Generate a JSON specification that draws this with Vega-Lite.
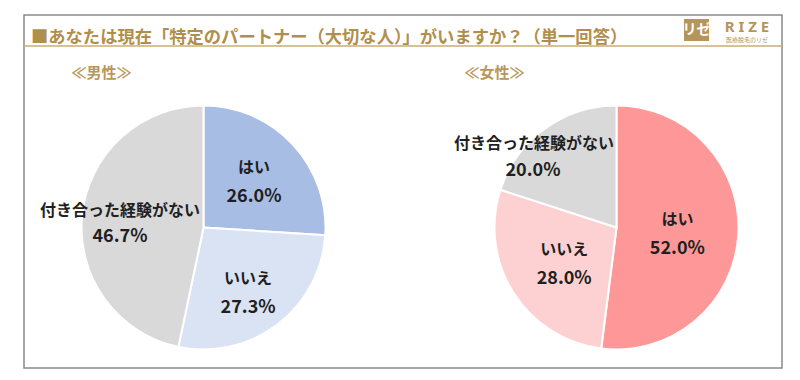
{
  "$schema": "https://vega.github.io/schema/vega-lite/v6.json",
  "width": 800,
  "height": 380,
  "autosize": {"type": "fit", "contains": "padding"},
  "padding": {"left": 23, "top": 15, "right": 17, "bottom": 12},
  "background": "white",
  "config": {
    "view": {"stroke": "#8a8a8a", "strokeWidth": 1.5},
    "font": "Noto Sans CJK JP"
  },
  "title": {
    "text": "■あなたは現在「特定のパートナー（大切な人）」がいますか？（単一回答）",
    "anchor": "start",
    "frame": "group",
    "orient": "top",
    "offset": -31,
    "dx": 7,
    "fontSize": 17.3,
    "fontWeight": "bold",
    "color": "#b08f4e",
    "font": "Noto Sans CJK JP"
  },
  "data": {
    "values": [
      {"gender": "男性", "answer": "はい", "value": 0.260},
      {"gender": "男性", "answer": "いいえ", "value": 0.273},
      {"gender": "男性", "answer": "付き合った経験がない", "value": 0.467},
      {"gender": "女性", "answer": "はい", "value": 0.520},
      {"gender": "女性", "answer": "いいえ", "value": 0.280},
      {"gender": "女性", "answer": "付き合った経験がない", "value": 0.200}
    ]
  },
  "transform": [
    {"calculate": "indexof(['はい','いいえ','付き合った経験がない'], datum.answer)", "as": "rank"}
  ],
  "resolve": {"scale": {"color": "independent"}},
  "layer": [
    {
      "data": {"values": [{"line": "underline"}]},
      "mark": {"type": "rule", "color": "#c9ae74", "strokeWidth": 1.5},
      "encoding": {"y": {"value": 31}}
    },
    {
      "transform": [{"filter": "datum.gender === '男性'"}],
      "mark": {"type": "arc", "outerRadius": 122, "stroke": "white", "strokeWidth": 2},
      "encoding": {
        "theta": {"field": "value", "type": "quantitative", "stack": true},
        "order": {"field": "rank", "type": "quantitative"},
        "color": {
          "field": "answer", "type": "nominal", "legend": null,
          "scale": {"domain": ["はい", "いいえ", "付き合った経験がない"], "range": ["#a8bde3", "#dae3f3", "#d9d9d9"]}
        },
        "x": {"field": "gender", "type": "nominal", "axis": null, "scale": {"type": "point", "padding": 0, "domain": ["男性", "女性"], "range": [179.5, 592.5]}},
        "y": {"value": 212.5}
      }
    },
    {
      "transform": [{"filter": "datum.gender === '女性'"}],
      "mark": {"type": "arc", "outerRadius": 122, "stroke": "white", "strokeWidth": 2},
      "encoding": {
        "theta": {"field": "value", "type": "quantitative", "stack": true},
        "order": {"field": "rank", "type": "quantitative"},
        "color": {
          "field": "answer", "type": "nominal", "legend": null,
          "scale": {"domain": ["はい", "いいえ", "付き合った経験がない"], "range": ["#fe9898", "#fdd1d1", "#d9d9d9"]}
        },
        "x": {"field": "gender", "type": "nominal", "axis": null, "scale": {"type": "point", "padding": 0, "domain": ["男性", "女性"], "range": [179.5, 592.5]}},
        "y": {"value": 212.5}
      }
    },
    {
      "transform": [{"filter": "datum.gender === '男性'"}],
      "mark": {
        "type": "text", "fontSize": 16, "fontWeight": "bold", "color": "#1f1f1f",
        "baseline": "middle", "align": "center", "dx": -2,
        "dy": {"expr": "datum.answer === '付き合った経験がない' ? -8 : -10"},
        "radius": {"expr": "datum.answer === 'はい' ? 72 : datum.answer === 'いいえ' ? 77 : 82"}
      },
      "encoding": {
        "theta": {"field": "value", "type": "quantitative", "stack": true},
        "order": {"field": "rank", "type": "quantitative"},
        "text": {"field": "answer"},
        "x": {"field": "gender", "type": "nominal", "axis": null, "scale": {"type": "point", "padding": 0, "domain": ["男性", "女性"], "range": [179.5, 592.5]}},
        "y": {"value": 212.5}
      }
    },
    {
      "transform": [{"filter": "datum.gender === '男性'"}],
      "mark": {
        "type": "text", "fontSize": 18, "fontWeight": "bold", "color": "#1f1f1f",
        "baseline": "middle", "align": "center", "dx": -2,
        "dy": {"expr": "datum.answer === '付き合った経験がない' ? 18 : 19"},
        "radius": {"expr": "datum.answer === 'はい' ? 72 : datum.answer === 'いいえ' ? 77 : 82"}
      },
      "encoding": {
        "theta": {"field": "value", "type": "quantitative", "stack": true},
        "order": {"field": "rank", "type": "quantitative"},
        "text": {"field": "value", "type": "quantitative", "format": ".1%"},
        "x": {"field": "gender", "type": "nominal", "axis": null, "scale": {"type": "point", "padding": 0, "domain": ["男性", "女性"], "range": [179.5, 592.5]}},
        "y": {"value": 212.5}
      }
    },
    {
      "transform": [{"filter": "datum.gender === '女性'"}],
      "mark": {
        "type": "text", "fontSize": 16, "fontWeight": "bold", "color": "#1f1f1f",
        "baseline": "middle", "align": "center",
        "radius": {"expr": "datum.answer === 'はい' ? 61 : datum.answer === 'いいえ' ? 62 : 108"},
        "dx": {"expr": "datum.answer === '付き合った経験がない' ? -19 : 0"},
        "dy": {"expr": "datum.answer === '付き合った経験がない' ? 4 : -11"}
      },
      "encoding": {
        "theta": {"field": "value", "type": "quantitative", "stack": true},
        "order": {"field": "rank", "type": "quantitative"},
        "text": {"field": "answer"},
        "x": {"field": "gender", "type": "nominal", "axis": null, "scale": {"type": "point", "padding": 0, "domain": ["男性", "女性"], "range": [179.5, 592.5]}},
        "y": {"value": 212.5}
      }
    },
    {
      "transform": [{"filter": "datum.gender === '女性'"}],
      "mark": {
        "type": "text", "fontSize": 18, "fontWeight": "bold", "color": "#1f1f1f",
        "baseline": "middle", "align": "center",
        "radius": {"expr": "datum.answer === 'はい' ? 61 : datum.answer === 'いいえ' ? 62 : 108"},
        "dx": {"expr": "datum.answer === '付き合った経験がない' ? -20 : 0"},
        "dy": {"expr": "datum.answer === '付き合った経験がない' ? 31 : 18"}
      },
      "encoding": {
        "theta": {"field": "value", "type": "quantitative", "stack": true},
        "order": {"field": "rank", "type": "quantitative"},
        "text": {"field": "value", "type": "quantitative", "format": ".1%"},
        "x": {"field": "gender", "type": "nominal", "axis": null, "scale": {"type": "point", "padding": 0, "domain": ["男性", "女性"], "range": [179.5, 592.5]}},
        "y": {"value": 212.5}
      }
    },
    {
      "data": {"values": [{"gender": "男性", "heading": "≪男性≫"}, {"gender": "女性", "heading": "≪女性≫"}]},
      "mark": {
        "type": "text", "fontSize": 15, "fontWeight": "bold", "color": "#b8975c", "align": "left", "baseline": "middle",
        "dx": {"expr": "datum.gender === '男性' ? -132 : -152"}
      },
      "encoding": {
        "text": {"field": "heading"},
        "x": {"field": "gender", "type": "nominal", "axis": null, "scale": {"type": "point", "padding": 0, "domain": ["男性", "女性"], "range": [179.5, 592.5]}},
        "y": {"value": 58}
      }
    },
    {
      "data": {"values": [{"logo": "box"}]},
      "mark": {"type": "rect", "color": "#b5955b"},
      "encoding": {"x": {"value": 660}, "x2": {"value": 685}, "y": {"value": 4}, "y2": {"value": 26}}
    },
    {
      "data": {"values": [{"logo": "リゼ"}]},
      "mark": {"type": "text", "color": "white", "fontSize": 14, "fontWeight": "bold", "align": "center", "baseline": "middle"},
      "encoding": {"text": {"field": "logo"}, "x": {"value": 672.5}, "y": {"value": 15}}
    },
    {
      "data": {"values": [{"logo": "R I Z E"}]},
      "mark": {"type": "text", "color": "#b5955b", "fontSize": 15, "fontWeight": "bold", "align": "center", "baseline": "middle", "font": "Noto Sans"},
      "encoding": {"text": {"field": "logo"}, "x": {"value": 723}, "y": {"value": 12}}
    },
    {
      "data": {"values": [{"logo": "医療脱毛のリゼ"}]},
      "mark": {"type": "text", "color": "#b5955b", "fontSize": 6, "align": "center", "baseline": "middle"},
      "encoding": {"text": {"field": "logo"}, "x": {"value": 723}, "y": {"value": 25}}
    }
  ]
}
